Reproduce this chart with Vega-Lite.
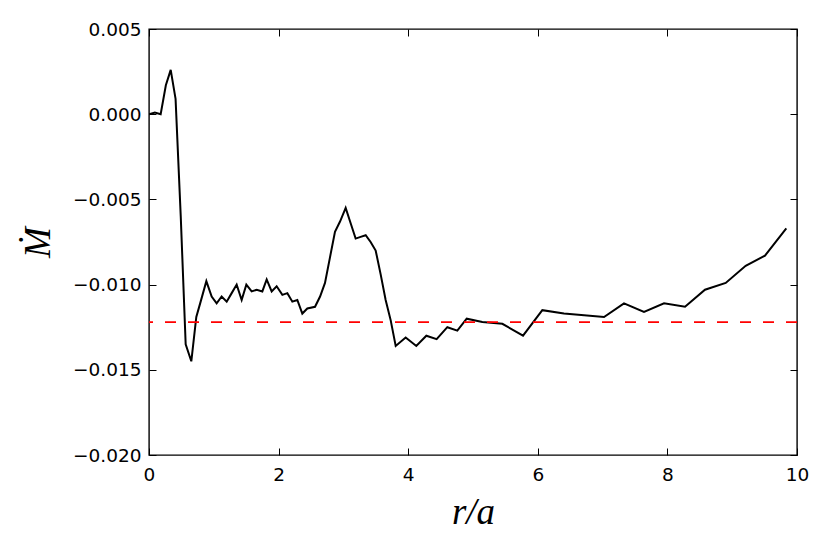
{
  "$schema": "https://vega.github.io/schema/vega-lite/v6.json",
  "width": 648,
  "height": 426,
  "autosize": "none",
  "padding": {"left": 149, "top": 29, "right": 33, "bottom": 99},
  "background": "white",
  "config": {
    "view": {"stroke": "black", "strokeWidth": 1.4},
    "axis": {
      "domain": false,
      "grid": false,
      "tickColor": "black",
      "tickWidth": 1,
      "tickSize": -7,
      "labelFont": "DejaVu Sans",
      "labelFontSize": 18.5,
      "labelColor": "black",
      "titleFont": "Liberation Serif",
      "titleFontStyle": "italic",
      "titleFontWeight": "normal",
      "titleFontSize": 37,
      "titleColor": "black"
    }
  },
  "datasets": {
    "mdot": [
      {"r": 0, "M": 0},
      {"r": 0.09, "M": 0.0001},
      {"r": 0.18, "M": 0.0},
      {"r": 0.26, "M": 0.0017},
      {"r": 0.335, "M": 0.0026},
      {"r": 0.41, "M": 0.0009},
      {"r": 0.49, "M": -0.006},
      {"r": 0.566, "M": -0.0135},
      {"r": 0.653, "M": -0.0145},
      {"r": 0.73, "M": -0.0119},
      {"r": 0.797, "M": -0.011},
      {"r": 0.885, "M": -0.0098},
      {"r": 0.967, "M": -0.0107},
      {"r": 1.044, "M": -0.0111},
      {"r": 1.121, "M": -0.0107},
      {"r": 1.199, "M": -0.011},
      {"r": 1.276, "M": -0.0105},
      {"r": 1.353, "M": -0.01},
      {"r": 1.43, "M": -0.0109},
      {"r": 1.502, "M": -0.01},
      {"r": 1.584, "M": -0.0104},
      {"r": 1.662, "M": -0.0103},
      {"r": 1.749, "M": -0.0104},
      {"r": 1.816, "M": -0.0097},
      {"r": 1.893, "M": -0.0104},
      {"r": 1.97, "M": -0.0101},
      {"r": 2.058, "M": -0.0106},
      {"r": 2.135, "M": -0.0105},
      {"r": 2.212, "M": -0.011},
      {"r": 2.289, "M": -0.0109},
      {"r": 2.366, "M": -0.0117},
      {"r": 2.443, "M": -0.0114},
      {"r": 2.562, "M": -0.0113},
      {"r": 2.64, "M": -0.0107},
      {"r": 2.716, "M": -0.0099},
      {"r": 2.793, "M": -0.0084},
      {"r": 2.87, "M": -0.0069},
      {"r": 2.948, "M": -0.0063},
      {"r": 3.035, "M": -0.0055},
      {"r": 3.112, "M": -0.0064},
      {"r": 3.189, "M": -0.0073},
      {"r": 3.266, "M": -0.0072},
      {"r": 3.344, "M": -0.0071},
      {"r": 3.42, "M": -0.0075},
      {"r": 3.498, "M": -0.008},
      {"r": 3.575, "M": -0.0094},
      {"r": 3.652, "M": -0.0109},
      {"r": 3.73, "M": -0.0121},
      {"r": 3.807, "M": -0.0136},
      {"r": 3.961, "M": -0.0131},
      {"r": 4.125, "M": -0.0136},
      {"r": 4.28, "M": -0.013},
      {"r": 4.439, "M": -0.0132},
      {"r": 4.604, "M": -0.0125},
      {"r": 4.758, "M": -0.0127},
      {"r": 4.903, "M": -0.012},
      {"r": 5.144, "M": -0.0122},
      {"r": 5.453, "M": -0.0123},
      {"r": 5.772, "M": -0.013},
      {"r": 6.07, "M": -0.0115},
      {"r": 6.404, "M": -0.0117},
      {"r": 7.022, "M": -0.0119},
      {"r": 7.33, "M": -0.0111},
      {"r": 7.639, "M": -0.0116},
      {"r": 7.948, "M": -0.0111},
      {"r": 8.272, "M": -0.0113},
      {"r": 8.58, "M": -0.0103},
      {"r": 8.9, "M": -0.0099},
      {"r": 9.208, "M": -0.0089},
      {"r": 9.506, "M": -0.0083},
      {"r": 9.835, "M": -0.0067}
    ],
    "ref": [{"M": -0.0122}]
  },
  "layer": [
    {
      "data": {"name": "mdot"},
      "mark": {"type": "line", "color": "black", "strokeWidth": 2, "clip": true},
      "encoding": {
        "x": {
          "field": "r", "type": "quantitative",
          "scale": {"domain": [0, 10], "nice": false, "zero": false},
          "axis": {
            "orient": "bottom", "values": [0, 2, 4, 6, 8, 10], "format": "d",
            "labelPadding": 17, "labelFlush": false,
            "title": "r/a", "titleX": 324, "titleY": 57, "titleAlign": "center", "titleBaseline": "middle", "titleAngle": 0
          }
        },
        "y": {
          "field": "M", "type": "quantitative",
          "scale": {"domain": [-0.02, 0.005], "nice": false, "zero": false},
          "axis": {
            "orient": "left", "values": [-0.02, -0.015, -0.01, -0.005, 0, 0.005], "format": ".3f",
            "labelPadding": 15, "labelFlush": false,
            "title": "Ṁ", "titleX": -111, "titleY": 213, "titleAlign": "center", "titleBaseline": "middle", "titleAngle": 270
          }
        }
      }
    },
    {
      "data": {"name": "ref"},
      "mark": {"type": "rule", "color": "#ff0000", "strokeWidth": 1.8, "strokeDash": [11, 12]},
      "encoding": {
        "y": {"field": "M", "type": "quantitative", "axis": null}
      }
    },
    {
      "data": {"name": "mdot"},
      "mark": {"type": "line", "opacity": 0},
      "encoding": {
        "x": {
          "field": "r", "type": "quantitative",
          "axis": {"orient": "top", "values": [0, 2, 4, 6, 8, 10], "labels": false, "title": null}
        },
        "y": {
          "field": "M", "type": "quantitative",
          "axis": {"orient": "right", "values": [-0.02, -0.015, -0.01, -0.005, 0, 0.005], "labels": false, "title": null}
        }
      }
    }
  ],
  "resolve": {"axis": {"x": "independent", "y": "independent"}}
}
